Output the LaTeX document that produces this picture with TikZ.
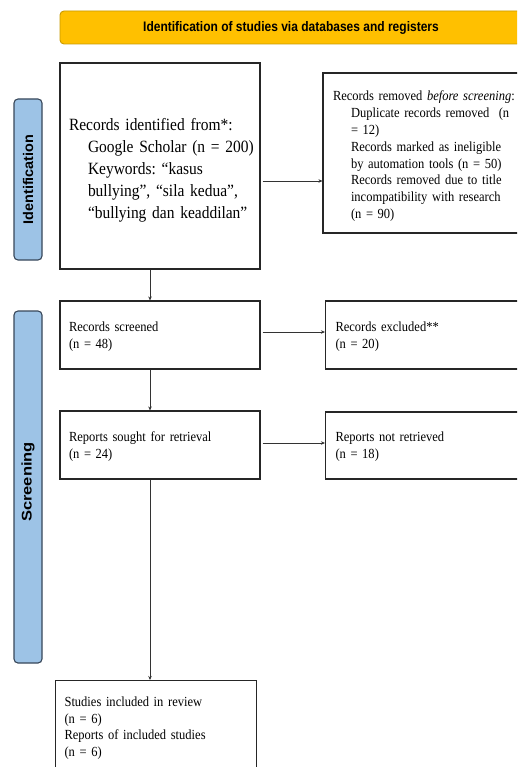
\documentclass[tikz,border=0pt]{standalone}
\usepackage{fontspec}
\setmainfont{Liberation Serif}[FakeStretch=0.9]
\newfontfamily\hdfont{Liberation Sans}[FakeStretch=0.87]
\newfontfamily\sidefont{Liberation Sans}
\usetikzlibrary{arrows.meta}
\definecolor{bannerfill}{HTML}{FFC000}
\definecolor{bannerdraw}{HTML}{C99A00}
\definecolor{sidefill}{HTML}{9DC3E6}
\definecolor{sidedraw}{HTML}{38475A}
\frenchspacing
\begin{document}
\begin{tikzpicture}[x=1pt,y=-1pt,
  box/.style={draw=black!85,line width=1.1pt,rectangle,align=left,inner xsep=9pt,inner ysep=0pt,
    font=\fontsize{13.9}{16.8}\selectfont},
  sidebox/.style={draw=sidedraw,fill=sidefill,line width=1.1pt,rounded corners=4pt,rotate=90,
    minimum height=28pt,inner sep=0pt,font=\sidefont\bfseries\fontsize{14}{16}\selectfont},
  arr/.style={draw=black!80,line width=0.8pt,-{Stealth[length=4pt,width=3.5pt]}}]
\useasboundingbox (0,0) rectangle (517,767);
\clip (0,0) rectangle (517,767);
\fill[white] (0,0) rectangle (517,767);

\node[draw=bannerdraw,fill=bannerfill,line width=0.9pt,rounded corners=4pt,minimum width=462pt,minimum height=33pt,
  font=\hdfont\bfseries\fontsize{13.8}{15}\selectfont] (hdr) at (291,27.5) {Identification of studies via databases and registers};

\node[sidebox,minimum width=161pt] (sideid) at (28,179.5) {\scalebox{1.03}[1]{Identification}};
\node[sidebox,minimum width=352pt] (sidescr) at (28,487) {\hspace*{10pt}\scalebox{1.18}[1]{Screening}};

\node[box,text width=182pt,minimum height=206pt,font=\fontsize{17.2}{22}\selectfont] (ident) at (160,166)
  {\rule{0pt}{20pt}\mbox{Records identified from*:}\\
   \mbox{\hspace*{19pt}Google Scholar (n = 200)}\\
   \mbox{\hspace*{19pt}Keywords: “kasus}\\
   \mbox{\hspace*{19pt}bullying”, “sila kedua”,}\\
   \mbox{\hspace*{19pt}“bullying dan keaddilan”}};

\node[box,inner xsep=10pt,text width=187pt,minimum height=160pt] (removed) at (426.5,153)
  {\rule{0pt}{16.5pt}Records removed \textit{before screening}:\\
   \mbox{\hspace*{18pt}Duplicate records removed~ (n}\\
   \hspace*{18pt}= 12)\\
   \hspace*{18pt}Records marked as ineligible\\
   \mbox{\hspace*{18pt}by automation tools (n = 50)}\\
   \hspace*{18pt}Records removed due to title\\
   \mbox{\hspace*{18pt}incompatibility with research}\\
   \hspace*{18pt}(n = 90)};

\node[box,text width=182pt,minimum height=68pt] (screened) at (160,335)
  {\rule{0pt}{12.5pt}Records screened\\(n = 48)};
\node[box,inner xsep=10pt,text width=185pt,minimum height=68pt] (excluded) at (428,335)
  {\rule{0pt}{12.5pt}Records excluded**\\(n = 20)};

\node[box,text width=182pt,minimum height=68pt] (sought) at (160,445)
  {\rule{0pt}{12.5pt}Reports sought for retrieval\\(n = 24)};
\node[box,inner xsep=10pt,text width=185pt,minimum height=67pt] (notret) at (428,445.5)
  {\rule{0pt}{12.5pt}Reports not retrieved\\(n = 18)};

\node[box,anchor=north west,text width=183pt,inner ysep=16pt] (included) at (55,680)
  {Studies included in review\\(n = 6)\\Reports of included studies\\(n = 6)\\[2pt]\mbox{}};

\draw[arr] ([xshift=2pt,yshift=-15pt]ident.east) -- ([yshift=-15pt]ident.east -| removed.west);
\draw[arr] ([xshift=-10pt]ident.south) -- ([xshift=-10pt]screened.north);
\draw[arr] ([xshift=2pt,yshift=3pt]screened.east) -- ([yshift=3pt]screened.east -| excluded.west);
\draw[arr] ([xshift=-10pt]screened.south) -- ([xshift=-10pt]sought.north);
\draw[arr] ([xshift=2pt,yshift=2pt]sought.east) -- ([yshift=2pt]sought.east -| notret.west);
\draw[arr] ([xshift=-10pt]sought.south) -- ([xshift=-10pt]sought.south |- included.north);
\end{tikzpicture}
\end{document}
